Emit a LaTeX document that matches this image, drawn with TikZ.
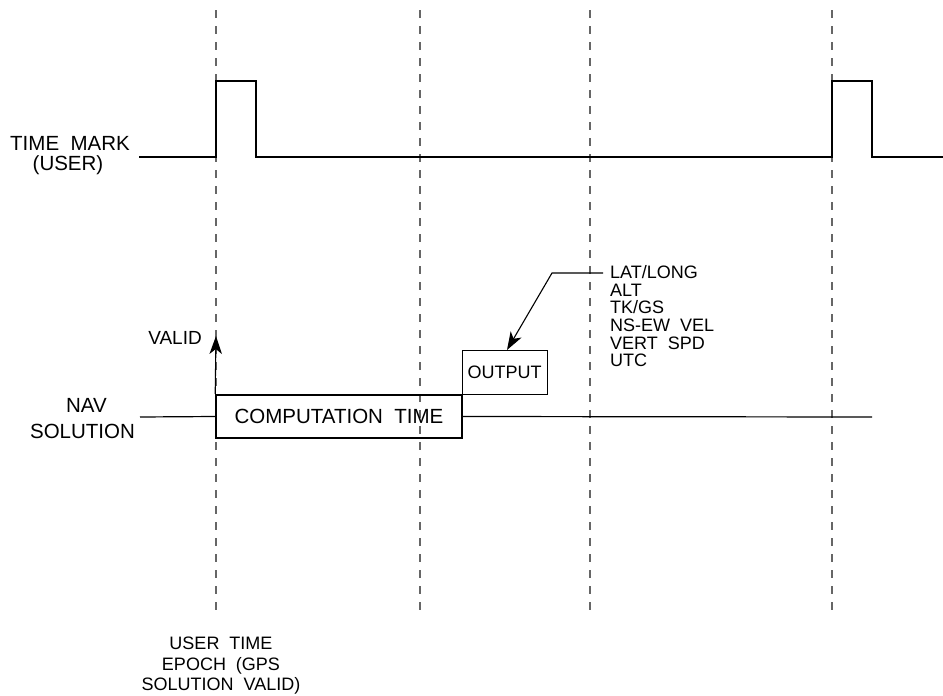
\documentclass[tikz,border=0pt]{standalone}
\usepackage{fontspec}
\setmainfont{Liberation Sans}
\usetikzlibrary{arrows.meta}
\begin{document}
\begin{tikzpicture}[x=1pt,y=-1pt,
  lbl/.style={inner sep=0pt,anchor=base},
  big/.style={font=\fontsize{20.5}{24}\selectfont},
  mid/.style={font=\fontsize{19}{22}\selectfont},
  sml/.style={font=\fontsize{18}{21}\selectfont},
  guide/.style={draw=black!60,line width=1.3pt,dash pattern=on 8pt off 8pt},
  wave/.style={line width=1.2pt},
  box/.style={draw,inner sep=0pt,minimum height=43.5pt},
  tip/.style={-{Stealth[length=18pt,width=12.5pt,inset=5pt]},line width=1.1pt}]
\useasboundingbox (0,0) rectangle (943,696);
% guide lines
\foreach \gx [count=\i] in {216,420,590,832}{
  \coordinate (gt\i) at (\gx,10);
  \coordinate (gb\i) at (\gx,617);
  \draw[guide] (gt\i) -- (gb\i);
}
% time mark waveform
\draw[wave] (139,157) -- (216,157) -- (216,81) -- (256,81) -- (256,157)
  -- (832,157) -- (832,81) -- (872,81) -- (872,157) -- (943,157);
\node[lbl,big] (tm1) at (70,150.5) {TIME~~MARK};
\node[lbl,big] (tm2) at (68,170) {(USER)};
% nav solution
\node[box,line width=1.6pt,minimum width=246pt,big] (comp) at (339,416.5) {COMPUTATION~~TIME};
\node[box,line width=1pt,minimum width=85pt,sml] (out) at (504.5,372.25) {OUTPUT};
\coordinate (navL) at (140,417);
\coordinate (navR) at (872,417);
\draw[wave] (navL) -- (comp.west);
\draw[wave] (comp.east) -- (navR);
\node[lbl,big] (nav1) at (86.5,412) {NAV};
\node[lbl,big] (nav2) at (82.5,438) {SOLUTION};
% valid arrow
\coordinate (vtip) at (216,336);
\draw[tip] (comp.north west) -- (vtip);
\node[lbl,mid,anchor=base east] (valid) at (202,344) {VALID};
% output list
\node[lbl,sml,anchor=base west] (l1) at (610,278.4) {LAT/LONG};
\node[lbl,sml,anchor=base west] (l2) at (610,296.1) {ALT};
\node[lbl,sml,anchor=base west] (l3) at (610,313.8) {TK/GS};
\node[lbl,sml,anchor=base west] (l4) at (610,331.5) {NS-EW~~VEL};
\node[lbl,sml,anchor=base west] (l5) at (610,349.2) {VERT~~SPD};
\node[lbl,sml,anchor=base west] (l6) at (610,366.9) {UTC};
\coordinate (lend) at (603,273);
\coordinate (lk) at (552,273);
\draw[tip] (lend) -- (lk) -- ([xshift=2.5pt]out.north);
% bottom caption
\node[lbl,sml] (c1) at (221,649) {USER~~TIME};
\node[lbl,sml] (c2) at (221,670) {EPOCH~~(GPS};
\node[lbl,sml] (c3) at (221,690) {SOLUTION~~VALID)};
\end{tikzpicture}
\end{document}
